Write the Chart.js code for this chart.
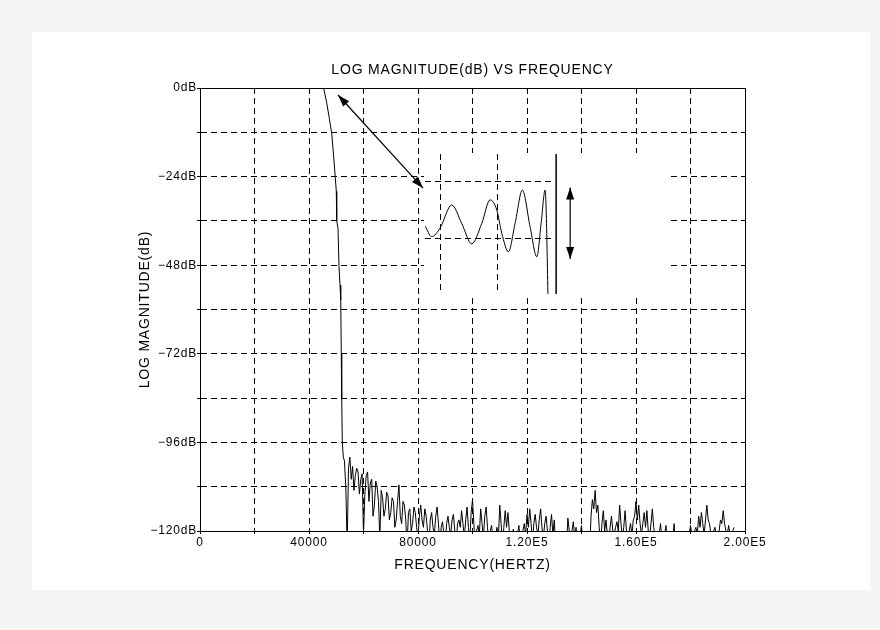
<!DOCTYPE html>
<html>
<head>
<meta charset="utf-8">
<title>Log magnitude vs frequency</title>
<script src="https://cdn.jsdelivr.net/npm/chart.js@4.4.1/dist/chart.umd.min.js"></script>
<style>
  body { margin: 0; background: #f5f5f5; }
  #card { position: absolute; left: 32px; top: 32px; width: 838px; height: 558px; background: #fff; }
  #main { position: absolute; left: 0; top: 0; }
  #inset { position: absolute; left: 392px; top: 121px; background: #fff; }
</style>
</head>
<body>
<div id="card">
  <canvas id="main" width="838" height="558"></canvas>
  <canvas id="inset" width="245" height="142"></canvas>
</div>
<script>
// passband and roll-off of the filter response (Hz, dB)
const edgeFreq = [0, 45000, 45500, 46500, 47450, 48330, 48920, 49650, 50020, 50170, 50650, 51010, 51380, 51640, 51850, 52000, 52220, 52590];
const edgeDb = [0, 0, -0.5, -4, -8.2, -12.3, -17.3, -24.3, -28, -36, -38, -48.4, -53.4, -57.4, -72, -84, -96, -100];

// stopband floor, one value per 500 Hz bin from 53 kHz
const floorStart = 53000;
const floorStep = 500;
const floorDb = [
  -101, -108, -124, -103, -100, -106, -102.5, -109, -105, -103,
  -104, -110, -106, -104.5, -121, -110, -105, -104, -112, -107,
  -106, -116, -113, -106.5, -108, -112, -122, -109, -111, -116,
  -114, -109.5, -110.5, -117, -115, -111, -112, -119, -117, -112,
  -107.5, -116, -118, -112, -113, -117, -124, -115, -114, -120,
  -118, -113.5, -115, -119, -122, -116, -113, -117, -119, -114,
  -116, -120, -124, -117, -115, -119, -121, -116, -113.5, -118,
  -124, -119, -117.5, -121, -123, -118, -116, -119, -121, -117,
  -115.5, -120, -125, -118, -117, -119, -114.5, -118, -122, -117,
  -113.5, -119, -123, -115, -111.6, -118, -125, -120, -118.5, -121,
  -114, -118, -122, -116, -113.5, -119, -124, -120, -118.5, -122,
  -125, -121, -119, -122, -113, -118, -124, -119, -114.5, -119,
  -115, -120, -125, -121, -119.5, -123, -126, -121, -118.5, -122,
  -124, -120, -118, -121, -115.5, -119, -114, -118, -123, -118,
  -115.5, -119, -121, -117, -114, -119, -122, -118, -116, -120,
  -124, -119, -115.5, -121, -117, -124, -126, -125, -127, -126,
  -126, -127, -127, -124, -116.5, -120, -125, -120, -117.5, -122,
  -119, -124, -126, -121, -118.5, -124, -127, -126, -126, -127,
  -125, -116, -111.5, -114, -109, -115, -113, -119, -124, -118,
  -114.5, -120, -117, -121, -123, -119, -116, -120, -121, -119,
  -117.5, -120, -113, -118, -122, -119, -114.5, -120, -123, -120,
  -118, -121, -117, -116, -112, -117, -113, -118, -121, -118,
  -115, -119, -114.5, -120, -122, -118, -114, -119, -122, -123,
  -124, -121, -118, -122, -125, -121, -118.5, -124, -126, -123,
  -120, -122, -118, -124, -126, -127, -127, -126, -126, -127,
  -127, -126, -125, -121, -118.5, -121, -124, -120, -119, -121,
  -116, -119, -115, -118, -121, -117, -113, -117, -118, -121,
  -123, -120, -119, -122, -124, -120, -117, -118, -114.5, -118,
  -120, -121, -118.5, -121, -123, -120, -119
];

const xTickValues = [0, 40000, 80000, 120000, 160000, 200000];
const xTickLabels = ['0', '40000', '80000', '1.20E5', '1.60E5', '2.00E5'];
const yTickValues = [0, -24, -48, -72, -96, -120];
const yTickLabels = ['0dB', '\u221224dB', '\u221248dB', '\u221272dB', '\u221296dB', '\u2212120dB'];

// passband ripple, enlarged (Hz, dB)
const rippleFreq = [4800, 7120, 10000, 14060, 17530, 21000, 24460, 27340, 29670, 31400, 33690, 36010, 38540, 41210, 43540, 45030, 46420, 47700];
const rippleDb = [-0.057, -0.095, -0.065, 0.018, -0.048, -0.121, -0.048, 0.036, 0.0, -0.083, -0.149, -0.048, 0.071, -0.06, -0.167, -0.048, 0.071, -0.45];
const rippleGridFreq = [10000, 30000];
const rippleGridDb = [-0.1, 0.1];
const rippleMax = 0.08;
const rippleMin = -0.175;
const bandEdgeFreq = 50230;
const rippleArrowFreq = 55090;

// pointer from the passband knee to the enlarged view
const pointerFrom = { x: 50650, y: -1.9 };
const pointerTo = { x: 81840, y: -27.1 };

const curve = edgeFreq.map((f, i) => ({ x: f, y: edgeDb[i] }))
  .concat(floorDb.map((v, i) => ({ x: floorStart + i * floorStep, y: v })));

const family = '"Liberation Sans", Arial, sans-serif';
const tickFont = { family: family, size: 12 };
const titleFont = { family: family, size: 14, weight: 'normal' };

function align(p) {
  return Math.round(p - 0.5) + 0.5;
}

function arrowHead(ctx, x1, y1, x2, y2, len, half) {
  const a = Math.atan2(y2 - y1, x2 - x1);
  ctx.beginPath();
  ctx.moveTo(x2, y2);
  ctx.lineTo(x2 - len * Math.cos(a) + half * Math.sin(a), y2 - len * Math.sin(a) - half * Math.cos(a));
  ctx.lineTo(x2 - len * Math.cos(a) - half * Math.sin(a), y2 - len * Math.sin(a) + half * Math.cos(a));
  ctx.closePath();
  ctx.fill();
}

function doubleArrow(ctx, x1, y1, x2, y2) {
  ctx.save();
  ctx.strokeStyle = '#000';
  ctx.fillStyle = '#000';
  ctx.lineWidth = 1.2;
  ctx.beginPath();
  ctx.moveTo(x1, y1);
  ctx.lineTo(x2, y2);
  ctx.stroke();
  arrowHead(ctx, x1, y1, x2, y2, 12, 4);
  arrowHead(ctx, x2, y2, x1, y1, 12, 4);
  ctx.restore();
}

// the plot lettering is spaced a little wider than the plain font
const spacing = {
  id: 'spacing',
  beforeUpdate(chart) { chart.ctx.letterSpacing = '0.8px'; },
  beforeDraw(chart) { chart.ctx.letterSpacing = '0.8px'; }
};

const frame = {
  id: 'frame',
  afterDraw(chart) {
    const { ctx, chartArea: a } = chart;
    ctx.save();
    ctx.strokeStyle = '#000';
    ctx.lineWidth = 1;
    ctx.strokeRect(align(a.left), align(a.top), Math.round(a.right - a.left), Math.round(a.bottom - a.top));
    ctx.restore();
  }
};

const pointer = {
  id: 'pointer',
  afterDatasetsDraw(chart) {
    const { x, y } = chart.scales;
    doubleArrow(chart.ctx,
      x.getPixelForValue(pointerFrom.x), y.getPixelForValue(pointerFrom.y),
      x.getPixelForValue(pointerTo.x), y.getPixelForValue(pointerTo.y));
  }
};

new Chart(document.getElementById('main'), {
  type: 'line',
  data: {
    datasets: [{
      data: curve,
      borderColor: '#000',
      borderWidth: 1,
      pointRadius: 0,
      tension: 0
    }]
  },
  options: {
    responsive: false,
    animation: false,
    events: [],
    layout: { padding: { left: 101, right: 125, top: 20, bottom: 12 } },
    plugins: {
      legend: { display: false },
      tooltip: { enabled: false },
      title: {
        display: true,
        fullSize: false,
        text: 'LOG MAGNITUDE(dB) VS FREQUENCY',
        color: '#000',
        font: titleFont,
        padding: { top: 9.6, bottom: 9.6 }
      }
    },
    scales: {
      x: {
        type: 'linear',
        min: 0,
        max: 200000,
        afterFit: s => { s.height = 47; },
        ticks: {
          stepSize: 20000,
          autoSkip: false,
          maxRotation: 0,
          padding: 1,
          color: '#000',
          font: tickFont,
          callback: v => {
            const i = xTickValues.indexOf(v);
            return i >= 0 ? xTickLabels[i] : '';
          }
        },
        grid: { color: '#000', lineWidth: 1, tickLength: 3, tickColor: '#000' },
        border: { display: true, color: '#000', width: 1, dash: [6, 4] },
        title: { display: true, text: 'FREQUENCY(HERTZ)', color: '#000', font: titleFont }
      },
      y: {
        type: 'linear',
        min: -120,
        max: 0,
        afterFit: s => { s.width = 67; },
        ticks: {
          stepSize: 12,
          autoSkip: false,
          padding: 0,
          color: '#000',
          font: tickFont,
          callback: v => {
            const i = yTickValues.indexOf(v);
            return i >= 0 ? yTickLabels[i] : '';
          }
        },
        grid: { color: '#000', lineWidth: 1, tickLength: 3, tickColor: '#000' },
        border: { display: true, color: '#000', width: 1, dash: [6, 4] },
        title: { display: true, text: 'LOG MAGNITUDE(dB)', color: '#000', font: titleFont }
      }
    }
  },
  plugins: [spacing, frame, pointer]
});

const rippleArrow = {
  id: 'rippleArrow',
  afterDatasetsDraw(chart) {
    const { x, y } = chart.scales;
    const px = x.getPixelForValue(rippleArrowFreq);
    doubleArrow(chart.ctx, px, y.getPixelForValue(rippleMax), px, y.getPixelForValue(rippleMin));
  }
};

new Chart(document.getElementById('inset'), {
  type: 'line',
  data: {
    datasets: [{
      data: rippleFreq.map((f, i) => ({ x: f, y: rippleDb[i] })),
      borderColor: '#000',
      borderWidth: 1,
      pointRadius: 0,
      cubicInterpolationMode: 'monotone'
    }, {
      data: [{ x: bandEdgeFreq, y: -0.3 }, { x: bandEdgeFreq, y: 0.2 }],
      borderColor: '#000',
      borderWidth: 1.5,
      pointRadius: 0,
      clip: false
    }]
  },
  options: {
    responsive: false,
    animation: false,
    events: [],
    layout: { padding: { left: 1, right: 117, top: 1, bottom: 1 } },
    plugins: { legend: { display: false }, tooltip: { enabled: false } },
    scales: {
      x: {
        type: 'linear',
        min: 4800,
        max: 48800,
        afterBuildTicks: s => { s.ticks = rippleGridFreq.map(v => ({ value: v })); },
        afterFit: s => { s.height = 0; },
        ticks: { display: false },
        grid: { color: '#000', drawTicks: false },
        border: { display: false, dash: [6, 4] }
      },
      y: {
        type: 'linear',
        min: -0.3,
        max: 0.2,
        afterBuildTicks: s => { s.ticks = rippleGridDb.map(v => ({ value: v })); },
        afterFit: s => { s.width = 0; },
        ticks: { display: false },
        grid: { color: '#000', drawTicks: false },
        border: { display: false, dash: [6, 4] }
      }
    }
  },
  plugins: [rippleArrow]
});
</script>
</body>
</html>
